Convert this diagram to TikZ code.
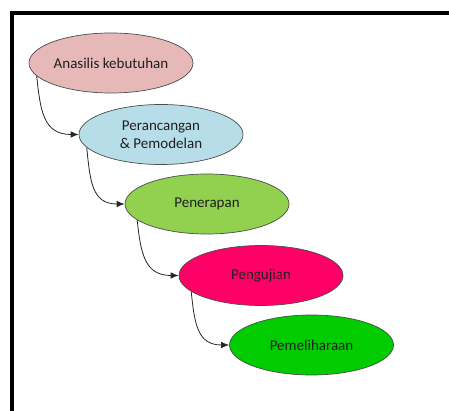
\documentclass[tikz,border=0pt]{standalone}
\usepackage{fontspec}
\setmainfont{Carlito}
\usetikzlibrary{shapes.geometric,arrows.meta}
\definecolor{c1}{HTML}{E6B9B8}
\definecolor{c2}{HTML}{B7DEE8}
\definecolor{c3}{HTML}{92D050}
\definecolor{c4}{HTML}{FF0066}
\definecolor{c5}{HTML}{00CC00}
\begin{document}
\begin{tikzpicture}[x=1pt,y=1pt,
  phase/.style={ellipse, draw=black!70, line width=0.7pt, minimum width=164pt,
    minimum height=60pt, inner sep=0pt, font=\fontsize{15}{18}\selectfont,
    text=black!88, align=center},
  link/.style={draw=black!85, line width=0.8pt, -{Latex[length=8pt,width=6.5pt]}}]
\useasboundingbox (0,0) rectangle (449,-411);
\fill[white] (0,0) rectangle (449,-411);
\draw[line width=4pt, line join=miter] (12,-430) -- (12,-13.5) -- (470,-13.5);
\node[phase, fill=c1] (a) at (111,-63) {Anasilis kebutuhan};
\node[phase, fill=c2] (b) at (161,-134.5) {Perancangan\\ \& Pemodelan};
\node[phase, fill=c3] (c) at (207,-204) {Penerapan};
\node[phase, fill=c4] (d) at (261,-275.5) {Pengujian};
\node[phase, fill=c5] (e) at (311.5,-345) {Pemeliharaan};
\draw[link] (a.190) to[out=-84,in=180,looseness=1.25] (b.west);
\draw[link] (b.190) to[out=-84,in=180,looseness=1.25] (c.west);
\draw[link] (c.193) to[out=-84,in=180,looseness=1.25] (d.west);
\draw[link] (d.193) to[out=-84,in=180,looseness=1.25] (e.west);
\end{tikzpicture}
\end{document}
